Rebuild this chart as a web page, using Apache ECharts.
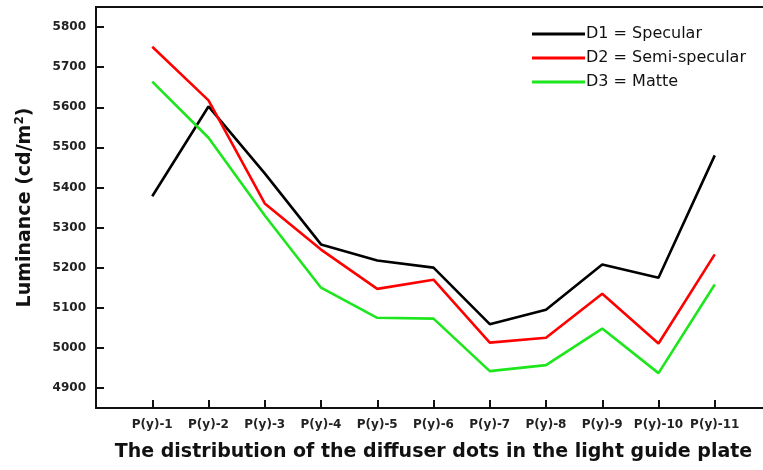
<!DOCTYPE html>
<html>
<head>
<meta charset="utf-8">
<script src="https://cdn.jsdelivr.net/npm/echarts@6/dist/echarts.min.js"></script>
<style>
  html, body { margin: 0; padding: 0; background: #fff; }
  #chart { width: 763px; height: 470px; }
</style>
</head>
<body>
<div id="chart"></div>
<script>
const categories = ['P(y)-1', 'P(y)-2', 'P(y)-3', 'P(y)-4', 'P(y)-5', 'P(y)-6',
  'P(y)-7', 'P(y)-8', 'P(y)-9', 'P(y)-10', 'P(y)-11']
const d1Specular = [5378, 5602, 5435, 5258, 5218, 5200, 5059, 5095, 5208, 5175, 5480]
const d2SemiSpecular = [5751, 5617, 5360, 5245, 5147, 5170, 5013, 5025, 5135, 5011, 5233]
const d3Matte = [5664, 5524, 5330, 5150, 5075, 5073, 4942, 4957, 5048, 4937, 5158]
const yTicks = [4900, 5000, 5100, 5200, 5300, 5400, 5500, 5600, 5700, 5800]
const xTicks = categories.map((c, i) => i + 1)

const toPoints = (arr) => arr.map((v, i) => [i + 1, v])
const font = 'DejaVu Sans'

const chart = echarts.init(document.getElementById('chart'))
chart.setOption({
  animation: false,
  // the plot box runs past the right edge of the picture
  grid: {
    left: 96, width: 675, top: 7, bottom: 62,
    outerBoundsMode: 'none',
    show: true, borderColor: '#111', borderWidth: 2,
  },
  legend: {
    orient: 'vertical',
    left: 527,
    top: 21,
    icon: 'rect',
    itemWidth: 53,
    itemHeight: 3,
    itemGap: 8,
    textStyle: { fontFamily: font, fontSize: 16, color: '#111', padding: [0, 0, 0, -4] },
    data: ['D1 = Specular', 'D2 = Semi-specular', 'D3 = Matte'],
  },
  xAxis: {
    type: 'value',
    min: 0,
    max: 12,
    name: 'The distribution of the diffuser dots in the light guide plate',
    nameLocation: 'middle',
    nameGap: 35,
    nameTextStyle: { fontFamily: font, fontWeight: 'bold', fontSize: 19, color: '#111' },
    axisLine: { show: false },
    axisTick: { inside: true, length: 8, customValues: xTicks, lineStyle: { color: '#111', width: 2 } },
    axisLabel: {
      customValues: xTicks,
      formatter: (v) => categories[v - 1] || '',
      margin: 11,
      fontFamily: font, fontWeight: 'bold', fontSize: 12, color: '#222',
    },
    splitLine: { show: false },
  },
  yAxis: {
    type: 'value',
    min: 4850,
    max: 5850,
    name: 'Luminance (cd/m{sup|2})',
    nameLocation: 'middle',
    nameGap: 60,
    nameTextStyle: {
      fontFamily: font, fontWeight: 'bold', fontSize: 19, color: '#111',
      rich: { sup: { fontFamily: font, fontWeight: 'bold', fontSize: 12, color: '#111', padding: [0, 0, 10, 0] } },
    },
    axisLine: { show: false },
    axisTick: { inside: true, length: 8, customValues: yTicks, lineStyle: { color: '#111', width: 2 } },
    axisLabel: {
      customValues: yTicks,
      formatter: (v) => String(v),
      margin: 10,
      fontFamily: font, fontWeight: 'bold', fontSize: 12, color: '#222',
    },
    splitLine: { show: false },
  },
  series: [
    { name: 'D1 = Specular', type: 'line', symbol: 'none', data: toPoints(d1Specular),
      lineStyle: { color: '#000', width: 2.6 }, itemStyle: { color: '#000' } },
    { name: 'D2 = Semi-specular', type: 'line', symbol: 'none', data: toPoints(d2SemiSpecular),
      lineStyle: { color: '#f00', width: 2.6 }, itemStyle: { color: '#f00' } },
    { name: 'D3 = Matte', type: 'line', symbol: 'none', data: toPoints(d3Matte),
      lineStyle: { color: '#1de61d', width: 2.6 }, itemStyle: { color: '#1de61d' } },
  ],
})
</script>
</body>
</html>
